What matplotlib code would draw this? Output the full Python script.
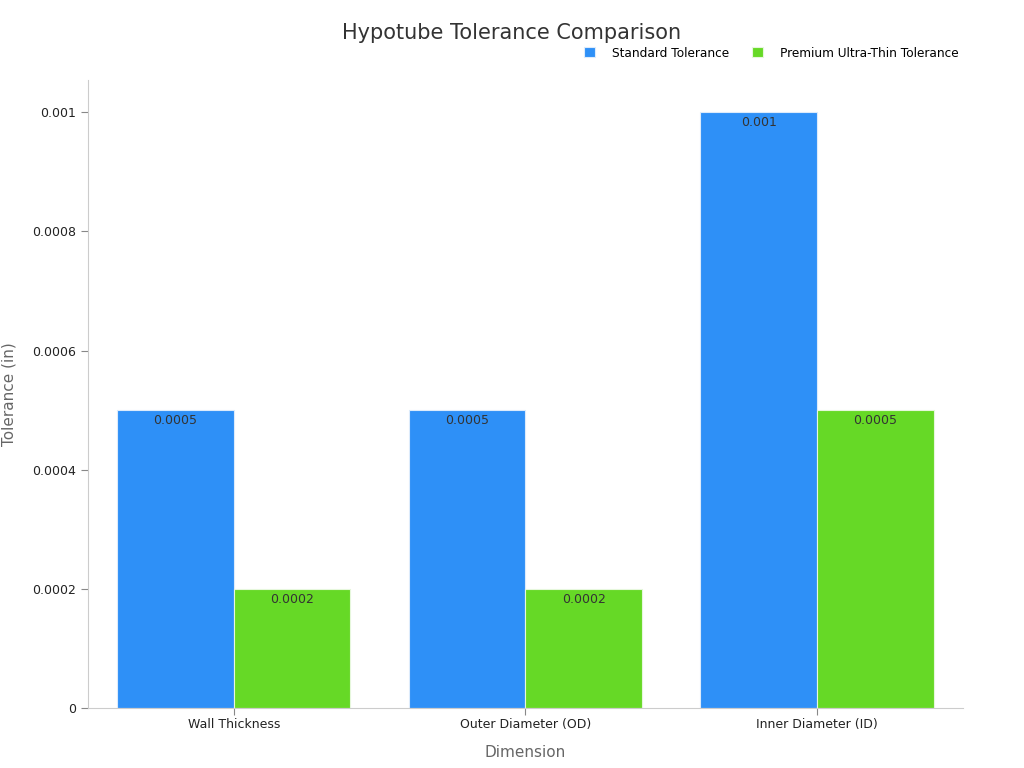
import numpy as np
import matplotlib.pyplot as plt

# data
categories = ['Wall Thickness', 'Outer Diameter (OD)', 'Inner Diameter (ID)']
standard = [0.0005, 0.0005, 0.001]
premium = [0.0002, 0.0002, 0.0005]
series_names = ['Standard Tolerance', 'Premium Ultra-Thin Tolerance']
value_labels_std = ['0.0005', '0.0005', '0.001']
value_labels_prem = ['0.0002', '0.0002', '0.0005']
yticks = [0, 0.0002, 0.0004, 0.0006, 0.0008, 0.001]
ytick_labels = ['0', '0.0002', '0.0004', '0.0006', '0.0008', '0.001']

blue = '#2E90F7'
green = '#66D926'

fig = plt.figure(figsize=(10.24, 7.68), dpi=100)
ax = fig.add_axes([0.0859, 0.0781, 0.8545, 0.8177])

x = np.arange(len(categories))
w = 0.4

b1 = ax.bar(x - w / 2, standard, w, color=blue, edgecolor='#DCEBFB', linewidth=0.8,
            label=series_names[0])
b2 = ax.bar(x + w / 2, premium, w, color=green, edgecolor='#E6F7DC', linewidth=0.8,
            label=series_names[1])

# value labels just inside the top of each bar
for bars, labels in [(b1, value_labels_std), (b2, value_labels_prem)]:
    for rect, lab in zip(bars, labels):
        ax.annotate(lab, (rect.get_x() + rect.get_width() / 2, rect.get_height()),
                    xytext=(0, -3), textcoords='offset points',
                    ha='center', va='top', fontsize=9, color='#333333')

ax.set_xlim(-0.5, 2.5)
ax.set_ylim(0, 0.001054)
ax.set_xticks(x)
ax.set_xticklabels(categories, fontsize=9, color='#222222')
ax.set_yticks(yticks)
ax.set_yticklabels(ytick_labels, fontsize=9, color='#222222')

for side in ['top', 'right']:
    ax.spines[side].set_visible(False)
for side in ['left', 'bottom']:
    ax.spines[side].set_color('#CCCCCC')
ax.tick_params(colors='#888888', labelcolor='#222222', length=5)
ax.tick_params(axis='x', pad=2.5)

ax.set_xlabel('Dimension', fontsize=11, color='#666666', labelpad=10)
ax.set_ylabel('Tolerance (in)', fontsize=11, color='#666666', labelpad=11)

fig.text(0.5, 0.957, 'Hypotube Tolerance Comparison', ha='center', va='center',
         fontsize=15, color='#333333')

ax.legend(loc='center right', bbox_to_anchor=(1.003, 1.043), ncol=2, frameon=False,
          fontsize=8.7, handlelength=0.9, handleheight=0.9, columnspacing=1.9,
          handletextpad=1.4, borderaxespad=0.2)

fig.savefig('out.png', dpi=100)
